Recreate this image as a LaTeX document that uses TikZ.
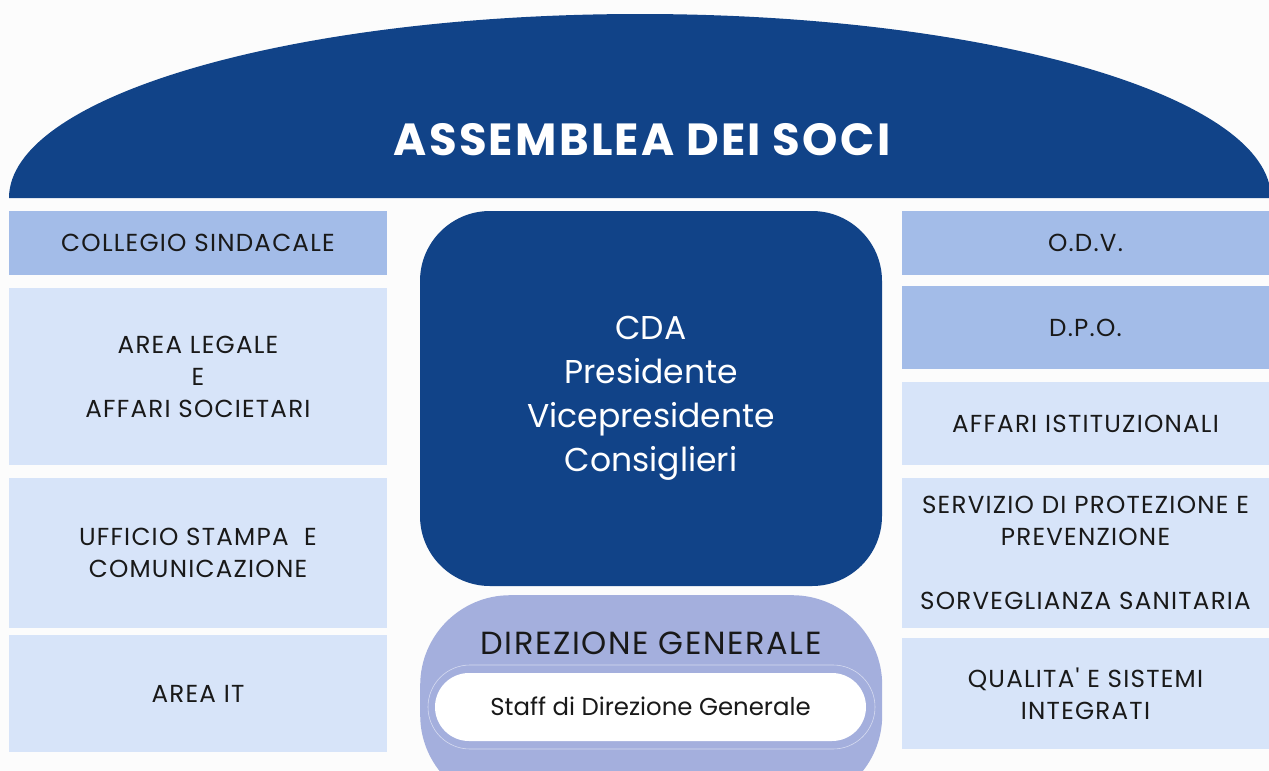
\documentclass[tikz,border=0pt]{standalone}
\usepackage{fontspec}
\setmainfont{Poppins}
\newfontfamily\capsfont{Poppins}[LetterSpace=5]
\usetikzlibrary{positioning}
\definecolor{navy}{HTML}{114388}
\definecolor{midblue}{HTML}{A3BCE8}
\definecolor{paleblue}{HTML}{D7E4F9}
\definecolor{lilac}{HTML}{A4AFDD}

\begin{document}
\begin{tikzpicture}
        [
            x=1pt, y=-1pt,
            unit/.style={rectangle, fill=#1, inner sep=0pt, outer sep=0pt,
                         align=center, text=black!90,
                         font=\capsfont\fontsize{24.6}{32}\selectfont},
            leftbox/.style={unit=#1, minimum width=378pt},
            rightbox/.style={unit=#1, minimum width=367pt},
            board/.style={rectangle, fill=navy, rounded corners=70pt,
                          inner sep=0pt, outer sep=0pt, text=white, align=center,
                          minimum width=462pt, font=\fontsize{33}{44}\selectfont},
            pill/.style={rectangle, fill=white, rounded corners=34pt,
                         inner sep=0pt, outer sep=0pt, text=black!90,
                         font=\fontsize{24.4}{28}\selectfont}
        ]
        \useasboundingbox (0,0) rectangle (1269,771);
        \fill [white!99!black] (0,0) rectangle (1269,771);
        % assemblea
        \fill [navy] (9,198) arc [start angle=180, end angle=0,
                                  x radius=631pt, y radius=184pt];
        \node (soci) [text=white, font=\capsfont\fontsize{45}{50}\bfseries]
            at (642,140) {ASSEMBLEA DEI SOCI};
        % left column
        \node (coll) [leftbox=midblue, minimum height=64pt, anchor=north west]
            at (9,211) {COLLEGIO SINDACALE};
        \node (legale) [leftbox=paleblue, minimum height=177pt, below=13pt of coll]
            {AREA LEGALE\\E\\AFFARI SOCIETARI};
        \node (stampa) [leftbox=paleblue, minimum height=150pt, below=13pt of legale]
            {UFFICIO STAMPA\ \ E\\COMUNICAZIONE};
        \node (it) [leftbox=paleblue, minimum height=117pt, below=7pt of stampa]
            {AREA IT};
        % right column
        \node (odv) [rightbox=midblue, minimum height=64pt, anchor=north west]
            at (902,211) {O.D.V.};
        \node (dpo) [rightbox=midblue, minimum height=83pt, below=11pt of odv]
            {D.P.O.};
        \node (istit) [rightbox=paleblue, minimum height=83pt, below=13pt of dpo]
            {AFFARI ISTITUZIONALI};
        \node (rspp) [rightbox=paleblue, minimum height=150pt, below=13pt of istit]
            {SERVIZIO DI PROTEZIONE E\\PREVENZIONE\\[32pt]SORVEGLIANZA SANITARIA};
        \node (qual) [rightbox=paleblue, minimum height=111pt, below=10pt of rspp]
            {QUALITA' E SISTEMI\\INTEGRATI};
        % centre
        \node (cda) [board, minimum height=375pt, anchor=north west] at (420,211)
            {CDA\\Presidente\\Vicepresidente\\Consiglieri};
        \node (dg) [rectangle, fill=lilac, rounded corners=90pt, minimum width=462pt,
                    minimum height=210pt, inner sep=0pt, anchor=north west]
            at (420,595) {};
        \node (dgtext) [font=\capsfont\fontsize{32}{36}\selectfont, text=black!90]
            at (651,643) {DIREZIONE GENERALE};
        \node (staff) [pill, minimum width=431pt, minimum height=68pt]
            at (650.5,707) {\raisebox{2pt}{Staff di Direzione Generale}};
        \draw [white!55!lilac, line width=0.6pt, rounded corners=42pt]
            ([shift={(-7pt,8pt)}]staff.north west) rectangle
            ([shift={(9pt,-8pt)}]staff.south east);
    \end{tikzpicture}
\end{document}
